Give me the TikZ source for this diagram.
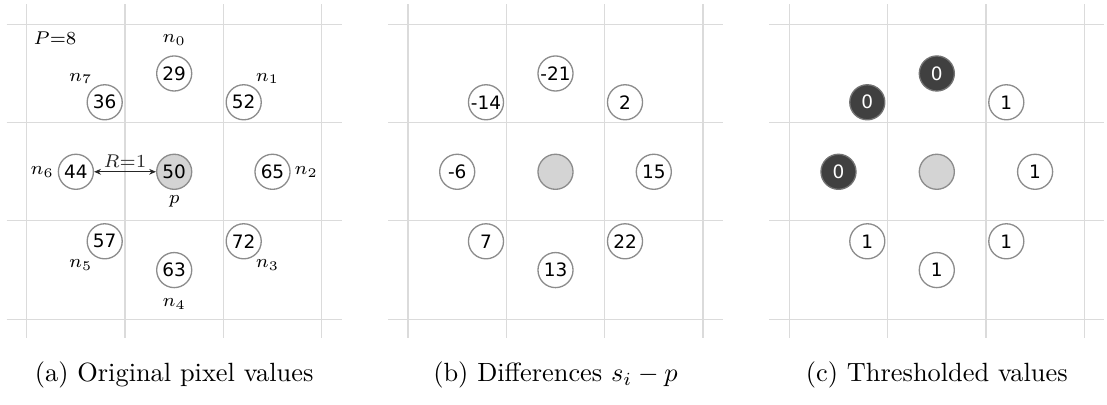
\documentclass[tikz,border=0pt]{standalone}
\usepackage{fontspec}
\newfontfamily\numfont{DejaVu Sans}
\usetikzlibrary{arrows.meta,calc}
\begin{document}
\begin{tikzpicture}[x=0.3793pt,y=0.3793pt,
  gridline/.style={draw=black!14, line width=0.45pt},
  pix/.style={circle, draw=black!45, line width=0.5pt, fill=white, minimum size=13.3pt, inner sep=0pt, font=\numfont\fontsize{7}{8}\selectfont},
  centerpix/.style={pix, fill=black!17},
  zeropix/.style={pix, fill=black!75, draw=black!55, text=white},
  lbl/.style={inner sep=0pt, font=\fontsize{7}{8}\selectfont},
  captext/.style={anchor=base, inner sep=0pt, font=\fontsize{10}{12}\selectfont},
  radarrow/.style={{Stealth[length=2.6pt,width=2.2pt]}-{Stealth[length=2.6pt,width=2.2pt]}, line width=0.5pt, black!85}]
\useasboundingbox (0,0) rectangle (1107,405);
% grids
\foreach \k/\xo in {a/26.7, b/408, c/789.3} {
  \foreach \i in {0,...,3} {
    \draw[gridline] (\xo+\i*98.3, 67) -- (\xo+\i*98.3, 401);
    \draw[gridline] (\xo-20, 380.7-\i*98.3) -- (\xo+315, 380.7-\i*98.3);
  }
  \coordinate (\k c) at (\xo+147.5, 233.2);
}
% panel (a)
\node[centerpix] (ap) at (ac) {50};
\foreach \i/\v in {0/29,1/52,2/65,3/72,4/63,5/57,6/44,7/36} {
  \node[pix] (a\i) at ($(ac)+({90-45*\i}:98.3)$) {\v};
  \node[lbl] (an\i) at ($(ac)+({90-45*\i}:132)$) {$n_{\i}$};
}
\node[lbl] (plabel) at ($(ac)+(0,-30)$) {$p$};
\node[lbl, anchor=west] (Plabel) at (33,366.5) {$P{=}8$};
\draw[radarrow] (a6) -- (ap) node[midway, above=1.3pt, lbl] (rlabel) {$R{=}1$};
\node[captext] (capa) at (174.2,23) {(a) Original pixel values};
% panel (b)
\node[centerpix] (bp) at (bc) {};
\foreach \i/\v in {0/-21,1/2,2/15,3/22,4/13,5/7,6/-6,7/-14} {
  \node[pix] (b\i) at ($(bc)+({90-45*\i}:98.3)$) {\v};
}
\node[captext] (capb) at (555.5,23) {(b) Differences $s_i - p$};
% panel (c)
\node[centerpix] (cp) at (cc) {};
\foreach \i/\v/\s in {0/0/zeropix,1/1/pix,2/1/pix,3/1/pix,4/1/pix,5/1/pix,6/0/zeropix,7/0/zeropix} {
  \node[\s] (c\i) at ($(cc)+({90-45*\i}:98.3)$) {\v};
}
\node[captext] (capc) at (936.8,23) {(c) Thresholded values};
\end{tikzpicture}
\end{document}
